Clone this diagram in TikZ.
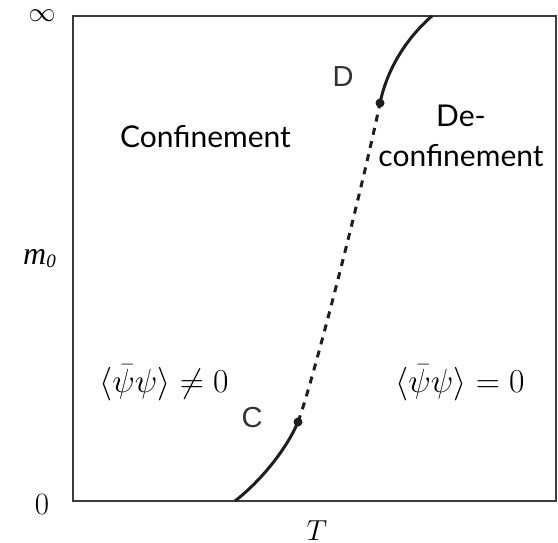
\RequirePackage{fix-cm}
\documentclass[tikz,border=0pt]{standalone}
\usepackage{fontspec}
\setmainfont{Lato}
\newfontfamily\labfont{Liberation Sans}
\newfontfamily\serifit{Liberation Serif}
\definecolor{framecol}{HTML}{3C3C3C}
\definecolor{curvecol}{HTML}{1E1E1E}
\definecolor{labcol}{HTML}{333333}
\tikzset{
  regiontext/.style={font=\fontsize{30}{34}\selectfont, anchor=base, inner sep=0pt},
  pointlab/.style={font=\labfont\fontsize{29}{32}\selectfont, text=labcol, anchor=base, inner sep=0pt},
  mathlab/.style={font=\fontsize{33.5}{36}\selectfont, anchor=base, inner sep=0pt},
  axislab/.style={inner sep=0pt},
  phaseline/.style={line width=3pt, color=curvecol},
  dashline/.style={line width=3pt, color=curvecol, dash pattern=on 7pt off 6.5pt},
  pointdot/.style={circle, fill=curvecol, inner sep=0pt, minimum size=9pt},
}
\begin{document}
\begin{tikzpicture}[x=1pt,y=-1pt]
\useasboundingbox (0,0) rectangle (558,543);
% frame
\coordinate (tl) at (73,16);
\coordinate (br) at (556,501);
\draw[framecol, line width=2pt] (tl) rectangle (br);
% curve points
\coordinate (start) at (235,501);
\coordinate (stop) at (432,16);
\node[pointdot] (C) at (298,422) {};
\node[pointdot] (D) at (380,103) {};
\draw[phaseline] (start) .. controls (262,480) and (287,448) .. (C.center);
\draw[dashline] (C.center) .. controls (312,385) and (362,190) .. (D.center);
\draw[phaseline] (D.center) .. controls (388,65) and (410,35) .. (stop);
% point labels
\node[pointlab] (Clab) at (252,427) {C};
\node[pointlab] (Dlab) at (343,87) {D};
% region texts
\node[regiontext] (conf) at (205.5,148) {Confinement};
\node[regiontext] (de) at (461,127) {De-};
\node[regiontext] (deconf) at (461,167) {confinement};
\node[mathlab] (neq) at (164,392) {$\langle\bar\psi\psi\rangle \neq 0$};
\node[mathlab] (eq) at (460,392) {$\langle\bar\psi\psi\rangle = 0$};
% axis labels
\node[axislab, font=\fontsize{27}{30}\selectfont] (inf) at (42,16) {$\infty$};
\node[axislab, anchor=base, font=\fontsize{31}{34}\selectfont] (zero) at (42,514) {$0$};
\node[axislab, anchor=base, font=\fontsize{29}{32}\selectfont] (T) at (317,540) {$T$};
\node[axislab, anchor=base west, font=\serifit\itshape\fontsize{32}{34}\selectfont] (m0) at (23,264) {m\raisebox{-3pt}{\fontsize{19}{20}\selectfont 0}};
\end{tikzpicture}
\end{document}
